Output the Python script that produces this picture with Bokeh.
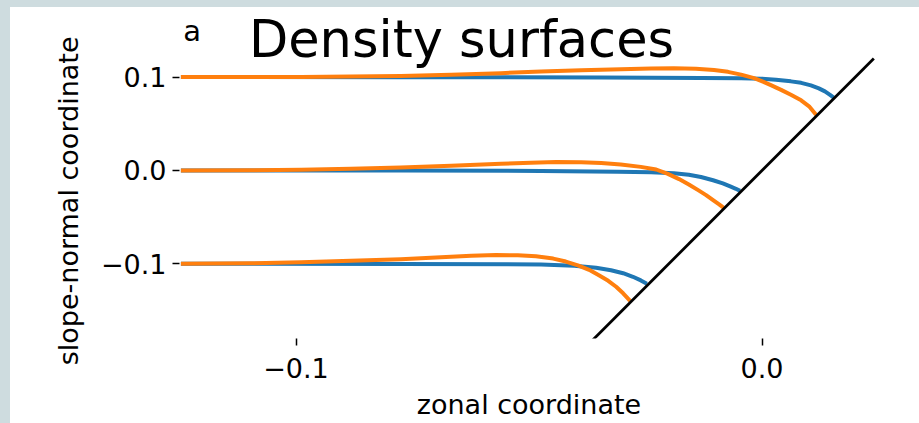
from bokeh.plotting import figure
from bokeh.layouts import column
from bokeh.models import Label, FixedTicker, Range1d, Title
from bokeh.embed import file_html
from bokeh.resources import INLINE

# ---- data ----
top_blue_x = [-0.1247, -0.0775, -0.0345, -0.0131, -0.0045, -0.0002, 0.003, 0.0062, 0.0084, 0.0105, 0.0122, 0.0135, 0.0146, 0.0154]
top_blue_y = [0.1, 0.0999, 0.0996, 0.0991, 0.0988, 0.0983, 0.0972, 0.0954, 0.0938, 0.0911, 0.0879, 0.0847, 0.0809, 0.0780]
top_orange_x = [-0.1247, -0.1097, -0.0989, -0.0882, -0.0775, -0.0667, -0.056, -0.0474, -0.0388, -0.0303, -0.0238,
                -0.0189, -0.0142, -0.0103, -0.0073, -0.0045, -0.0017, 0.0002, 0.0019, 0.0041, 0.0062, 0.0084, 0.0101, 0.0116]
top_orange_y = [0.1, 0.1, 0.1001, 0.1005, 0.1011, 0.1024, 0.1042, 0.1059, 0.1073, 0.1083, 0.1091,
                0.1094, 0.1090, 0.1075, 0.1056, 0.1026, 0.0988, 0.0951, 0.0913, 0.0863, 0.0810, 0.0751, 0.0687, 0.0596]

mid_blue_x = [-0.1247, -0.0775, -0.0474, -0.0309, -0.0238, -0.0189, -0.0157, -0.0131, -0.0105, -0.0084, -0.0067, -0.0056, -0.0047]
mid_blue_y = [0.0, -0.0002, -0.0005, -0.0013, -0.0019, -0.003, -0.0046, -0.007, -0.0105, -0.0139, -0.0174, -0.0197, -0.0219]
mid_orange_x = [-0.1247, -0.1097, -0.0989, -0.0882, -0.0775, -0.0667, -0.056, -0.0496, -0.0442, -0.0388, -0.0345,
                -0.0303, -0.026, -0.0227, -0.0202, -0.0178, -0.0157, -0.0137, -0.012, -0.0105, -0.0092, -0.0082]
mid_orange_y = [0.0, 0.0002, 0.0007, 0.0018, 0.0032, 0.005, 0.0071, 0.0083, 0.009, 0.0088, 0.0080,
                0.0064, 0.0038, 0.001, -0.0037, -0.0093, -0.015, -0.0211, -0.0264, -0.0318, -0.0363, -0.0401]

bot_blue_x = [-0.1247, -0.0775, -0.0474, -0.0403, -0.0356, -0.0324, -0.0298, -0.0277, -0.026, -0.0247]
bot_blue_y = [-0.1, -0.1002, -0.1007, -0.1021, -0.1043, -0.1069, -0.1101, -0.1139, -0.1178, -0.1213]
bot_orange_x = [-0.1247, -0.1097, -0.0989, -0.0882, -0.0775, -0.0689, -0.0624, -0.0571, -0.0524, -0.0485, -0.0448,
                -0.0421, -0.0395, -0.0371, -0.035, -0.033, -0.0313, -0.0298, -0.0283]
bot_orange_y = [-0.1, -0.0995, -0.0984, -0.0968, -0.095, -0.093, -0.0914, -0.0906, -0.0908, -0.092, -0.0944,
                -0.0976, -0.1016, -0.1064, -0.1123, -0.1182, -0.1246, -0.1316, -0.1396]

slope_x = [-0.05, 0.024]
slope_y = [-0.25, 0.12]

x_ticks = [-0.1, 0.0]
x_tick_labels = ["\u22120.1", "0.0"]
y_ticks = [-0.1, 0.0, 0.1]
y_tick_labels = ["\u22120.1", "0.0", "0.1"]

title_text = "Density surfaces"
panel_text = "a"
x_label = "zonal coordinate"
y_label = "slope-normal coordinate"

BLUE = "#1f77b4"
ORANGE = "#ff7f0e"
FONT = "DejaVu Sans"

fig = figure(width=909, height=416, output_backend="svg", toolbar_location=None,
             x_range=Range1d(-0.125, 0.025), y_range=Range1d(-0.18, 0.1745),
             min_border_left=169, min_border_right=41, min_border_top=0, min_border_bottom=85,
             styles={"background-color": "white"})
fig.outline_line_color = None
fig.grid.visible = False
fig.background_fill_color = None
fig.border_fill_color = None

for xs, ys in [(top_blue_x, top_blue_y), (mid_blue_x, mid_blue_y), (bot_blue_x, bot_blue_y)]:
    fig.line(xs, ys, line_color=BLUE, line_width=4, line_join="round")
for xs, ys in [(top_orange_x, top_orange_y), (mid_orange_x, mid_orange_y), (bot_orange_x, bot_orange_y)]:
    fig.line(xs, ys, line_color=ORANGE, line_width=4, line_join="round")
fig.line(slope_x, slope_y, line_color="black", line_width=2.8)

for ax in (fig.xaxis[0], fig.yaxis[0]):
    ax.axis_line_color = None
    ax.minor_tick_line_color = None
    ax.major_tick_in = 0
    ax.major_tick_out = 7
    ax.major_tick_line_width = 1.5
    ax.major_tick_line_color = "black"
    ax.major_label_text_font = FONT
    ax.major_label_text_font_size = "27px"
    ax.major_label_text_color = "black"
    ax.axis_label_text_font = FONT
    ax.axis_label_text_font_size = "27px"
    ax.axis_label_text_font_style = "normal"
    ax.axis_label_text_color = "black"

fig.xaxis[0].ticker = FixedTicker(ticks=x_ticks)
fig.xaxis[0].major_label_overrides = dict(zip(x_ticks, x_tick_labels))
fig.yaxis[0].ticker = FixedTicker(ticks=y_ticks)
fig.yaxis[0].major_label_overrides = dict(zip(y_ticks, y_tick_labels))
fig.xaxis[0].axis_label = x_label
fig.xaxis[0].major_label_standoff = 12
fig.yaxis[0].major_label_standoff = 6
fig.xaxis[0].axis_label_standoff = 8

# y-axis label as a left-side title so it can be offset from the (extended) frame top
fig.add_layout(Title(text=y_label, align="right", offset=29, standoff=28,
                     text_font=FONT, text_font_size="27px", text_font_style="normal",
                     text_color="black"), "left")

fig.add_layout(Label(x=-0.1101, y=0.1402, text=title_text, text_font=FONT,
                     text_font_size="51px", text_color="black", text_baseline="alphabetic"))
fig.add_layout(Label(x=-0.1242, y=0.1491, text=panel_text, text_font=FONT,
                     text_font_size="29px", text_color="black", text_baseline="alphabetic"))

p = column(fig, styles={"background-color": "#cedcdf", "padding": "7px 0px 0px 10px"})

open("out.html", "w").write(file_html(p, INLINE))
